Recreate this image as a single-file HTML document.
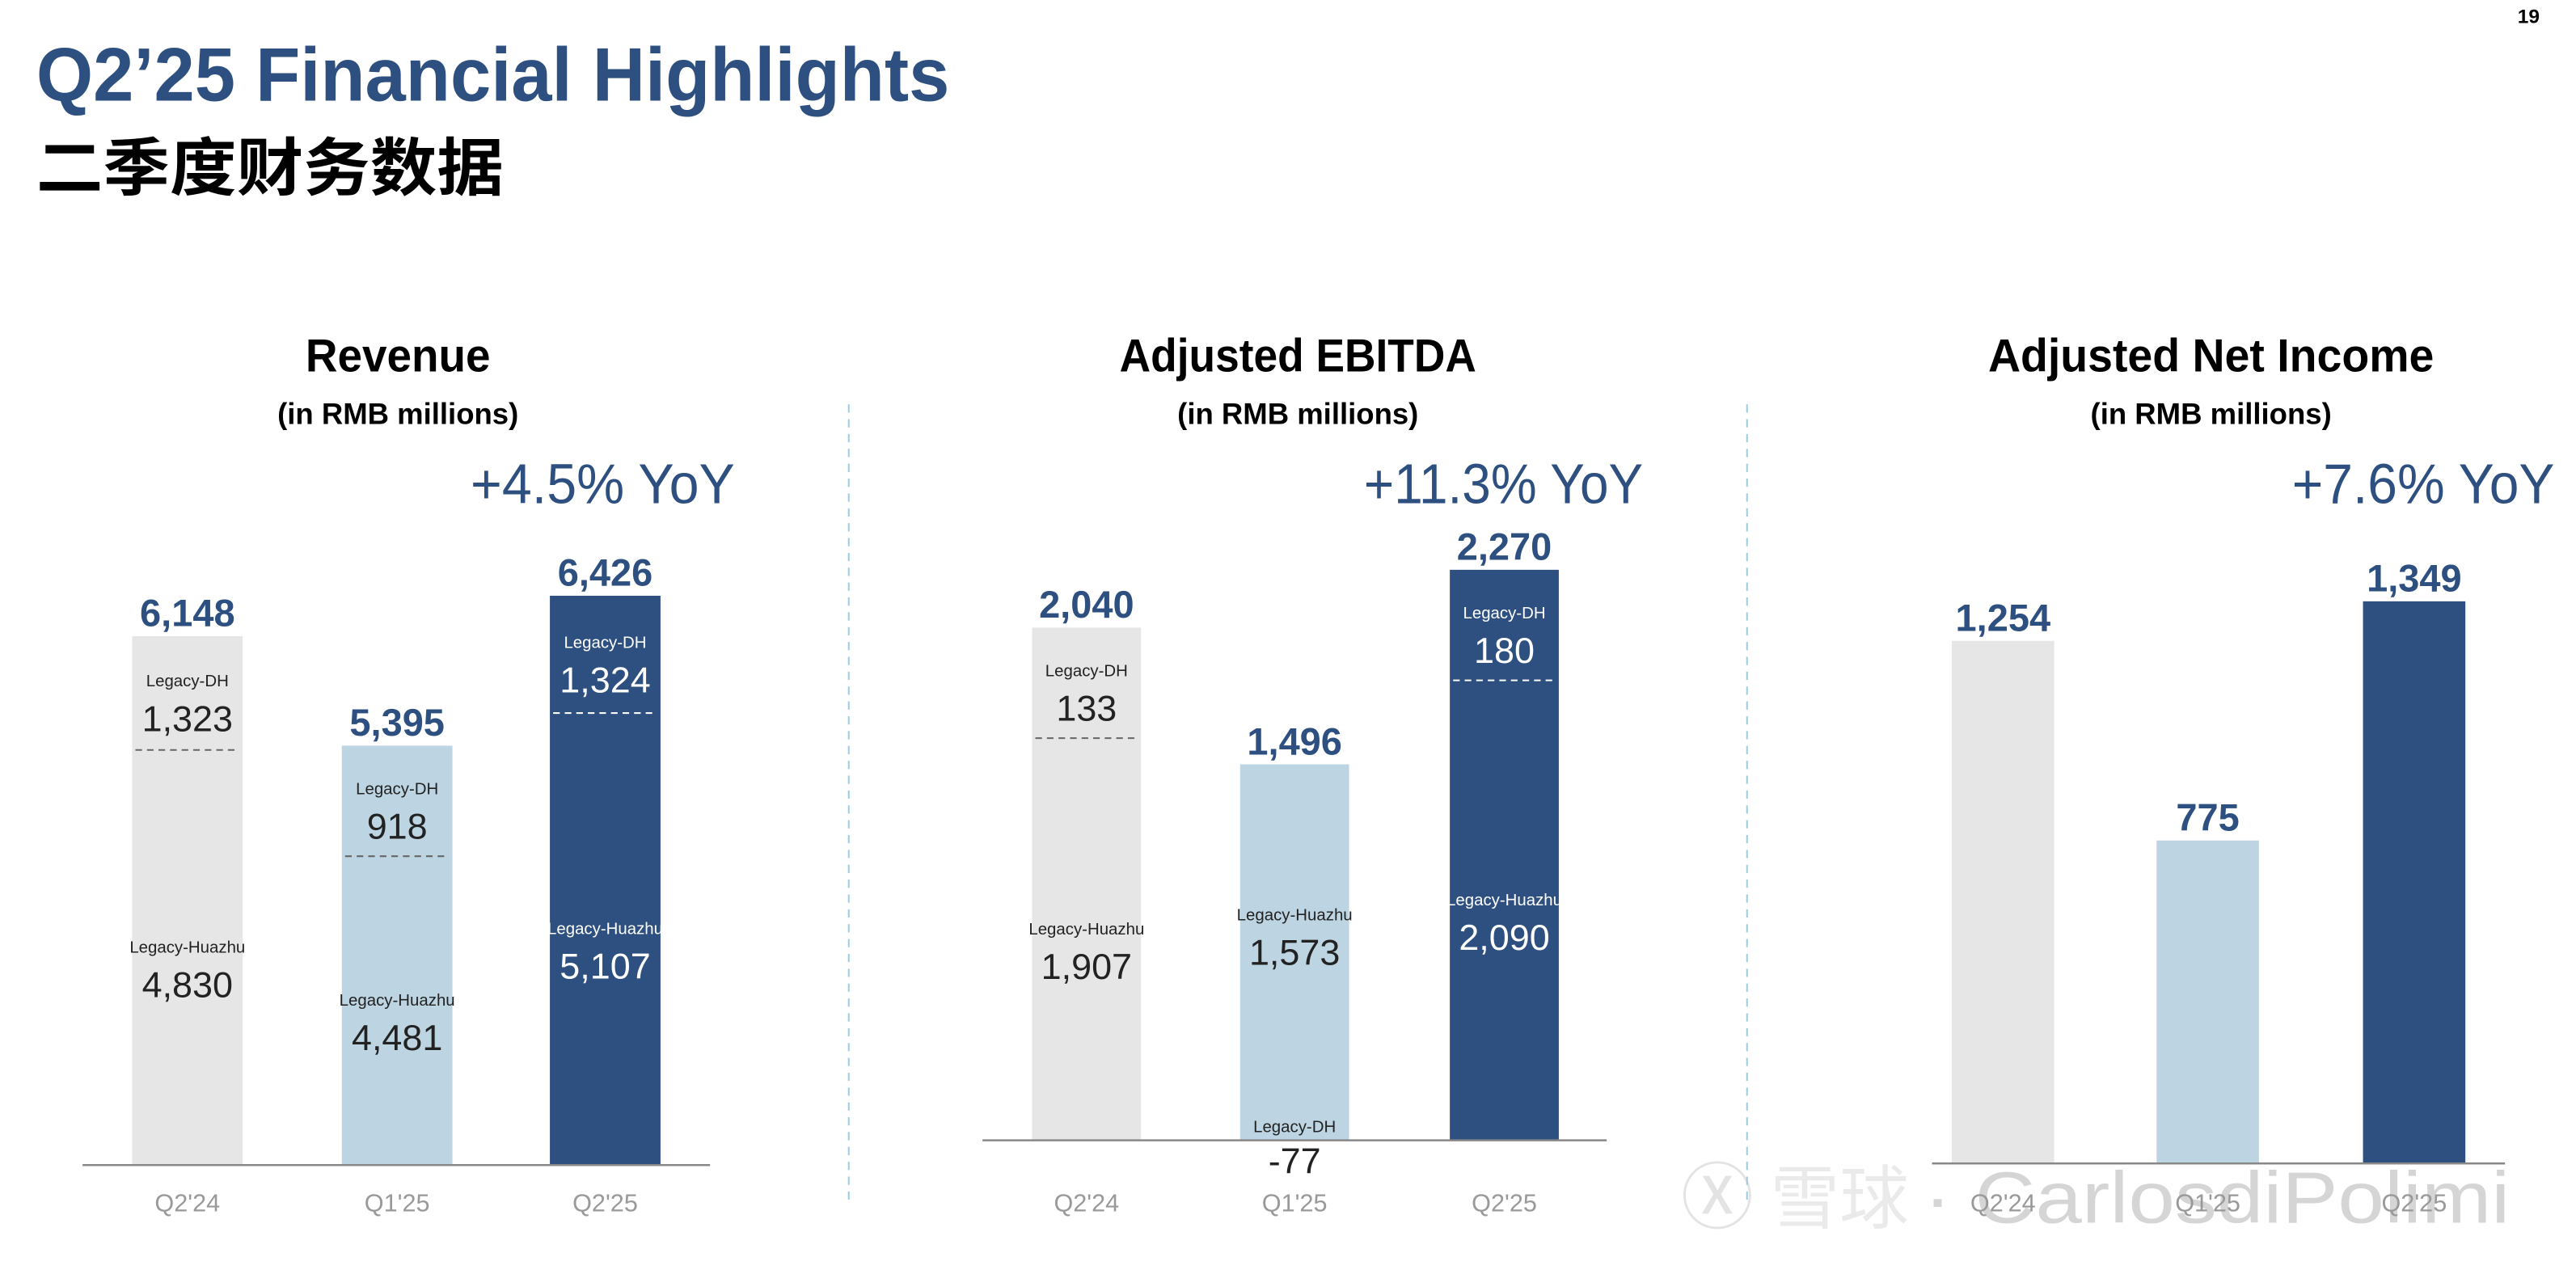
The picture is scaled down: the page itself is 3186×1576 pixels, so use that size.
<!DOCTYPE html>
<html><head><meta charset="utf-8">
<style>
html,body{margin:0;padding:0;background:#fff;}
svg{display:block;}
text{font-family:"Liberation Sans Narrow","Liberation Sans","Noto Sans CJK SC",sans-serif;}
</style></head>
<body>
<svg id="chart" width="3186" height="1576" viewBox="0 0 1560 772" preserveAspectRatio="none" xmlns="http://www.w3.org/2000/svg">
<text x="22" y="61" font-size="46" font-weight="bold" fill="#2e5080" textLength="553" lengthAdjust="spacingAndGlyphs">Q2’25 Financial Highlights</text>
<text x="22" y="115" font-size="38" font-weight="bold" fill="#000" style="font-family:'Noto Sans CJK SC',sans-serif" textLength="283" lengthAdjust="spacingAndGlyphs">二季度财务数据</text>
<text x="1538" y="14" font-size="12" font-weight="bold" text-anchor="end" fill="#000">19</text>
<line x1="514" y1="245" x2="514" y2="730" stroke="#9ccde0" stroke-width="1" stroke-dasharray="5,4"/>
<line x1="1058" y1="245" x2="1058" y2="730" stroke="#9ccde0" stroke-width="1" stroke-dasharray="5,4"/>
<g id="marks"></g>
<g opacity="0.4">
<text x="1018" y="741" font-size="44" fill="#bbb" style="font-family:'Noto Sans CJK SC',sans-serif">Ⓧ</text>
<text x="1072" y="741" font-size="42" fill="#ccc" style="font-family:'Noto Sans CJK SC',sans-serif">雪球</text>
<text x="1165" y="741" font-size="44" fill="#999" font-family="Liberation Sans" textLength="355" lengthAdjust="spacingAndGlyphs">· CarlosdiPolimi</text>
</g>
</svg>
<script>
const categories = ["Q2'24", "Q1'25", "Q2'25"];
const revTotal = [6148, 5395, 6426];
const revDH = [1323, 918, 1324];
const revHZ = [4830, 4481, 5107];
const ebTotal = [2040, 1496, 2270];
const ebDH = [133, -77, 180];
const ebHZ = [1907, 1573, 2090];
const niTotal = [1254, 775, 1349];
const yoyLabels = ["+4.5% YoY", "+11.3% YoY", "+7.6% YoY"];
const totalLabels = [["6,148","5,395","6,426"],["2,040","1,496","2,270"],["1,254","775","1,349"]];
const dhLabels = [["1,323","918","1,324"],["133","-77","180"]];
const hzLabels = [["4,830","4,481","5,107"],["1,907","1,573","2,090"]];

const NS = "http://www.w3.org/2000/svg";
const g = document.getElementById('marks');
const colors = ["#e6e6e6", "#bdd5e3", "#2e5080"];
const txtCol = ["#222", "#222", "#fff"];
function mk(tag, attrs, text) {
  const e = document.createElementNS(NS, tag);
  for (const k in attrs) e.setAttribute(k, attrs[k]);
  if (text !== undefined) e.textContent = text;
  g.appendChild(e);
  return e;
}
const panels = [
  {title:"Revenue", tl:112, cx:241, base:706, ax0:50, ax1:430, barX:[80,207,333], bw:67, y:v=>0.0881*(v-2510), total:revTotal, dh:revDH, hz:revHZ, yoyX:445, yl:160},
  {title:"Adjusted EBITDA", tl:216, cx:786, base:691, ax0:595, ax1:973, barX:[625,751,878], bw:66, y:v=>0.1523*v, total:ebTotal, dh:ebDH, hz:ebHZ, yoyX:995, yl:169},
  {title:"Adjusted Net Income", tl:270, cx:1339, base:705, ax0:1170, ax1:1517, barX:[1182,1306,1431], bw:62, y:v=>0.2525*v, total:niTotal, dh:null, hz:null, yoyX:1547, yl:159}
];
panels.forEach((p, pi) => {
  let e;
  e = mk('text', {x:p.cx, y:225, 'font-size':28, 'font-weight':'bold', 'text-anchor':'middle', fill:'#000', textLength:p.tl, lengthAdjust:'spacingAndGlyphs'}, p.title);
  
  
  e = mk('text', {x:p.cx, y:257, 'font-size':18, 'font-weight':'bold', 'text-anchor':'middle', fill:'#000', textLength:146, lengthAdjust:'spacingAndGlyphs'}, '(in RMB millions)');
  
  
  e = mk('text', {x:p.yoyX, y:305, 'font-size':34, 'text-anchor':'end', fill:'#2e5080', textLength:p.yl, lengthAdjust:'spacingAndGlyphs'}, yoyLabels[pi]);
  
  
  categories.forEach((c, i) => {
    const h = p.y(p.total[i]);
    const top = p.base - h;
    const x = p.barX[i], cx = x + p.bw / 2;
    e = mk('rect', {x:x, y:top, width:p.bw, height:h, fill:colors[i]});
    
    
    e = mk('text', {x:cx, y:top - 6, 'font-size':23, 'font-weight':'bold', 'text-anchor':'middle', fill:'#2e5080'}, totalLabels[pi][i]);
    
    
    e = mk('text', {x:cx, y:734, 'font-size':15, 'text-anchor':'middle', fill:'#999'}, c);
    
    
    if (p.dh) {
      const tc = txtCol[i];
      if (p.dh[i] >= 0) {
        const dhH = Math.max(h * p.dh[i] / p.total[i], 67);
        const split = top + dhH;
        e = mk('line', {x1:x + 2, x2:x + p.bw - 2, y1:split, y2:split, stroke: i === 2 ? '#fff' : '#666', 'stroke-width':1, 'stroke-dasharray':'4,3'});
        
        
        const m1 = (top + split) / 2 + 5;
        e = mk('text', {x:cx, y:m1 - 9, 'font-size':10, 'text-anchor':'middle', fill:tc}, 'Legacy-DH');
        
        
        e = mk('text', {x:cx, y:m1 + 18, 'font-size':22, 'text-anchor':'middle', fill:tc}, dhLabels[pi][i]);
        
        
        const m2 = (split + p.base) / 2 + 5;
        e = mk('text', {x:cx, y:m2 - 8, 'font-size':10, 'text-anchor':'middle', fill:tc}, 'Legacy-Huazhu');
        
        
        e = mk('text', {x:cx, y:m2 + 19, 'font-size':22, 'text-anchor':'middle', fill:tc}, hzLabels[pi][i]);
        
        
      } else {
        const m2 = top + h * 0.45;
        e = mk('text', {x:cx, y:m2 - 8, 'font-size':10, 'text-anchor':'middle', fill:tc}, 'Legacy-Huazhu');
        
        
        e = mk('text', {x:cx, y:m2 + 19, 'font-size':22, 'text-anchor':'middle', fill:tc}, hzLabels[pi][i]);
        
        
        e = mk('text', {x:cx, y:p.base - 5, 'font-size':10, 'text-anchor':'middle', fill:tc}, 'Legacy-DH');
        
        
        e = mk('text', {x:cx, y:p.base + 20, 'font-size':22, 'text-anchor':'middle', fill:'#222'}, dhLabels[pi][i]);
        
        
      }
    }
  });
  e = mk('line', {x1:p.ax0, x2:p.ax1, y1:p.base, y2:p.base, stroke:'#888', 'stroke-width':1.2});
  
  
});
</script>
</body></html>
